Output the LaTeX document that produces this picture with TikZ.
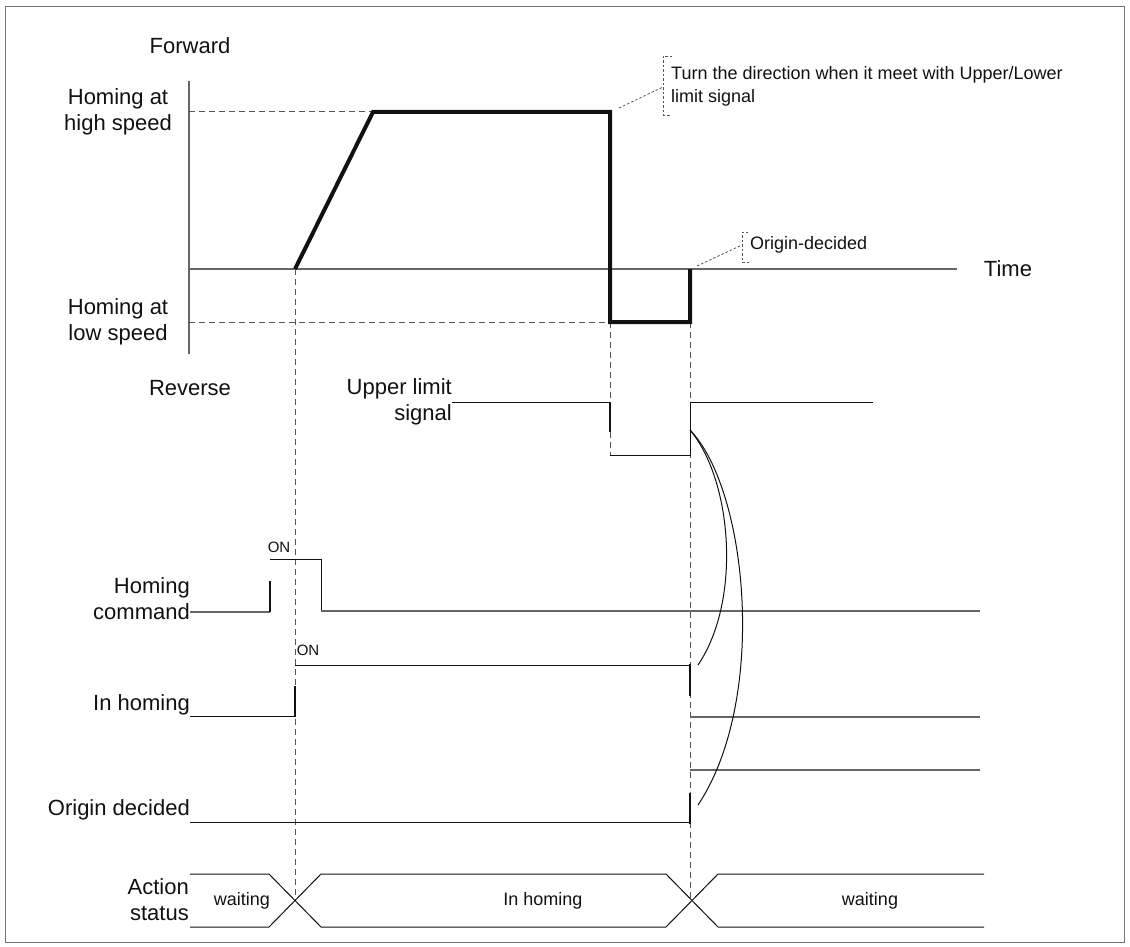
\documentclass[tikz,border=0pt]{standalone}
\usepackage{fontspec}
\setmainfont{Liberation Sans}
\usetikzlibrary{
  positioning
}
\definecolor{tdInk}{HTML}{111111}
\definecolor{tdAxis}{HTML}{666666}
\definecolor{tdGuide}{HTML}{555555}
\definecolor{tdFrame}{HTML}{777777}
\tikzset{
  label/.style={font=\fontsize{22}{26}\selectfont, text=tdInk, inner sep=0pt},
  rlabel/.style={label, align=right, anchor=east},
  clabel/.style={label, align=center},
  note/.style={font=\fontsize{18}{23}\selectfont, text=tdInk, inner sep=0pt, align=left},
  tag/.style={font=\fontsize{15}{17}\selectfont, text=tdInk, inner sep=0pt},
  axis/.style={draw=tdAxis, line width=1.2pt},
  wave/.style={draw=tdInk, line width=1pt},
  softwave/.style={draw=tdAxis, line width=1.2pt},
  edge/.style={draw=tdInk, line width=2.8pt},
  speed/.style={draw=tdInk, line width=4pt, line join=miter},
  guide/.style={draw=tdGuide, line width=1pt, dash pattern=on 6pt off 4pt},
  callout/.style={draw=tdGuide, line width=0.8pt, dash pattern=on 2.5pt off 2pt},
  link/.style={draw=tdInk, line width=1pt}
}

\begin{document}
\begin{tikzpicture}[x=1pt,y=-1pt]
\useasboundingbox (0,0) rectangle (1130,947);
\draw[draw=tdFrame, line width=1pt] (5,7) rectangle (1124,942);

% --------------------------------------------------------------------------
% Speed axes
% --------------------------------------------------------------------------
\node[clabel] (fwd) at (190,46) {Forward};
\node[clabel] (rev) at (190,388) {Reverse};
\node[clabel] (high) at (118,112) {Homing at\\high speed};
\node[clabel] (low) at (118,322) {Homing at\\low speed};
\node[label] (time) at (1008,269) {Time};

\coordinate (ax_top) at (189,81);
\coordinate (ax_bot) at (189,354);
\coordinate (t0) at (189,269);
\coordinate (t1) at (957,269);

\draw[axis] (ax_top) -- (ax_bot);
\draw[axis] (t0) -- (t1);

% speed profile
\coordinate (start) at (295,269);
\coordinate (reach) at (373,112);
\coordinate (limit) at (610,112);
\coordinate (rev_a) at (610,322);
\coordinate (rev_b) at (690,322);
\coordinate (origin) at (690,269);

% guides first, so the edges stay on top
\draw[guide] (189,112) -- (reach);
\draw[guide] (189,322) -- (rev_a);
\draw[guide] (start) -- (295,901);
\draw[guide] (rev_a) -- (610,455);
\draw[guide] (rev_b) -- (690,901);

\draw[speed] (start) -- (reach) -- (limit) -- (rev_a) -- (rev_b) -- (origin);

% --------------------------------------------------------------------------
% Callouts
% --------------------------------------------------------------------------
\node[note, anchor=west] (turn_note) at (671,86)
  {Turn the direction when it meet with Upper/Lower\\limit signal};
\draw[callout] (672,56) -- (663,56) -- (663,115) -- (670,115);
\draw[callout] (619,108) -- (663,87);

\node[note, anchor=west] (origin_note) at (750,245) {Origin-decided};
\draw[callout] (748,232) -- (742,232) -- (742,262) -- (749,262);
\draw[callout] (697,266) -- (742,245);

% --------------------------------------------------------------------------
% Upper limit signal
% --------------------------------------------------------------------------
\node[rlabel] (ulim) at (452,402) {Upper limit\\signal};
\draw[wave] (ulim.east |- 0,402) -- (610,402);
\draw[edge] (610,402) -- (610,432);
\draw[wave] (610,455) -- (690,455) -- (690,402) -- (873,402);
\coordinate (ulim_up) at (690,430);

% --------------------------------------------------------------------------
% Homing command
% --------------------------------------------------------------------------
\node[rlabel] (cmd) at (190,599) {Homing\\command};
\draw[softwave] (190,612) -- (270,612);
\draw[edge] (270,612) -- (270,581);
\node[tag] (cmd_on) at (279,547) {ON};
\draw[wave] (270,559) -- (321,559) -- (321,611);
\draw[softwave] (321,611) -- (980,611);

% --------------------------------------------------------------------------
% In homing
% --------------------------------------------------------------------------
\node[rlabel] (busy) at (190,705) {In homing};
\draw[wave] (190,716) -- (295,716);
\draw[edge] (295,717) -- (295,686);
\node[tag] (busy_on) at (308,650) {ON};
\draw[wave] (295,665) -- (690,665);
\draw[edge] (690,664) -- (690,696);
\draw[softwave] (690,717) -- (980,717);
\coordinate (busy_off) at (698,665);

% --------------------------------------------------------------------------
% Origin decided
% --------------------------------------------------------------------------
\node[rlabel] (done) at (190,810) {Origin decided};
\draw[wave] (190,822) -- (690,822);
\draw[edge] (690,824) -- (690,793);
\draw[softwave] (690,770) -- (980,770);
\coordinate (done_on) at (698,805);

\draw[link] (ulim_up) .. controls (732,480) and (742,600) .. (busy_off);
\draw[link] (ulim_up) .. controls (748,490) and (768,700) .. (done_on);

% --------------------------------------------------------------------------
% Action status
% --------------------------------------------------------------------------
\node[rlabel] (act) at (189,900) {Action\\status};
\node[note] (st_wait) at (242,901) {waiting};
\node[note] (st_home) at (543,901) {In homing};
\node[note] (st_done) at (870,901) {waiting};

\draw[wave] (190,874) -- (269,874) -- (321,927) -- (666,927) -- (718,874) -- (984,874);
\draw[wave] (190,927) -- (269,927) -- (321,874) -- (666,874) -- (718,927) -- (984,927);

\end{tikzpicture}
\end{document}
